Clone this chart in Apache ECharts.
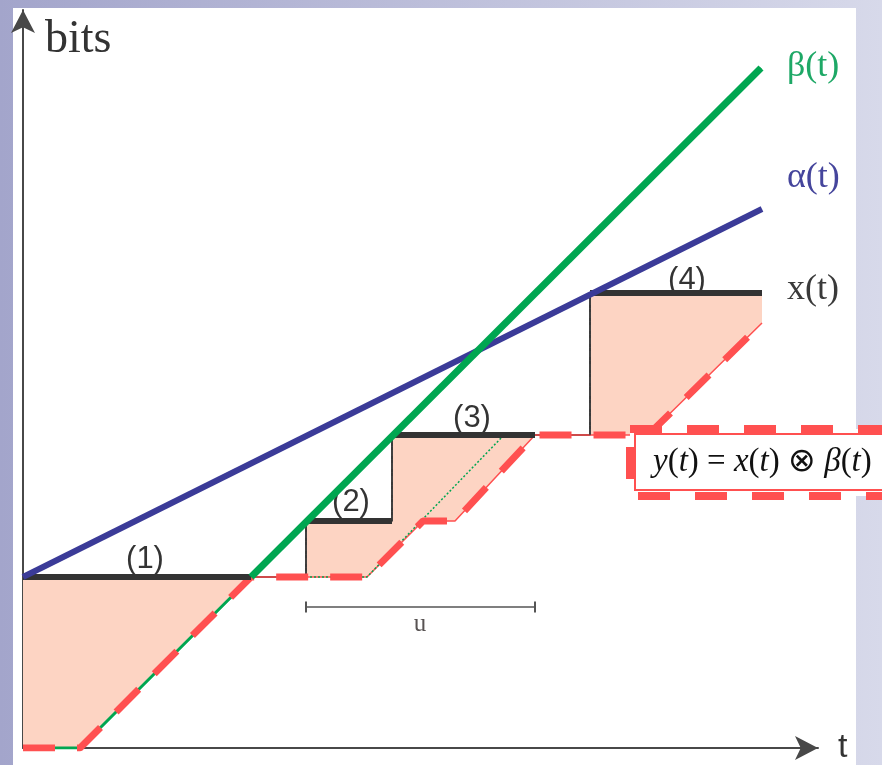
<!DOCTYPE html>
<html>
<head>
<meta charset="utf-8">
<title>y(t) = x(t) ⊗ β(t)</title>
<script src="https://cdn.jsdelivr.net/npm/echarts@6/dist/echarts.min.js"></script>
<style>
    html, body { margin: 0; padding: 0; }
    body { width: 882px; height: 765px; position: relative; overflow: hidden;
           background: linear-gradient(to right, #a3a5cb, #d7d9ea); }
    #panel { position: absolute; left: 13px; top: 8px; width: 843px; height: 757px; background: #fff; }
    #main { position: absolute; left: 0; top: 0; width: 882px; height: 765px; }
</style>
</head>
<body>
<div id="panel"></div>
<div id="main"></div>
<script>
    // axis extent (t, bits)
    var tMax = 795;
    var bitsMax = 738;

    // curves as [t, bits]
    var alphaCurve = [[0, 171], [739, 539]];
    var betaCurve = [[0, 0], [57, 0], [738, 680]];
    var betaAbove = [[228, 171], [738, 680]];
    var betaShifted = [[283, 171], [344, 171], [481, 313]];
    var arrival = [[0, 171], [283, 171], [283, 227], [369, 227], [369, 313], [567, 313], [567, 455], [739, 455]];
    var arrivalBold = [
        [[0, 171], [228, 171]],
        [[283, 227], [369, 227]],
        [[369, 313], [512, 313]],
        [[567, 455], [739, 455]]
    ];
    var jumps = [
        [[283, 171], [283, 227]],
        [[369, 227], [369, 313]],
        [[567, 313], [567, 455]]
    ];
    var departure = [[0, 0], [57, 0], [228, 171], [344, 171], [400, 227], [432, 227], [512, 313], [625, 313], [739, 425]];
    var uSpan = [[283, 141], [512, 141]];
    var uLabelAt = [[397, 124]];
    var stepNames = ['(1)', '(2)', '(3)', '(4)'];
    var stepLabelAt = [[122, 189], [328, 246], [449, 330], [664, 468]];

    var backlog = arrival.concat(departure.slice().reverse());

    function line(data, color, width, extra) {
        var s = {
            type: 'line', data: data, symbol: 'none', silent: true, animation: false,
            lineStyle: { color: color, width: width }
        };
        for (var k in extra) s[k] = extra[k];
        return s;
    }

    var series = [];
    // backlog area between x(t) and y(t)
    series.push({
        type: 'custom', silent: true, animation: false, z: 1,
        data: [[0, 0]],
        renderItem: function (params, api) {
            var pts = backlog.map(function (p) { return api.coord(p); });
            return { type: 'polygon', shape: { points: pts }, style: { fill: '#fdd4c3' } };
        }
    });
    series.push(line(arrival, '#3a3a3a', 2, {
        endLabel: { show: true, formatter: 'x(t)', distance: 0, offset: [25, -3],
            fontFamily: 'Liberation Serif', fontSize: 36, color: '#3a3a3a' }
    }));
    series.push(line(departure, '#ff5050', 1.5));
    series.push(line(betaCurve, '#00a651', 3));
    series.push(line(betaShifted, '#00a651', 1.5, {}));
    series[series.length - 1].lineStyle.type = [2, 2];
    jumps.forEach(function (seg) {
        var s = line(seg, '#444', 1.5);
        s.lineStyle.type = [6, 3, 1, 3];
        series.push(s);
    });
    // y(t) = x(t) ⊗ β(t), dashed
    var dep = line(departure, '#ff5050', 7);
    dep.lineStyle.type = [32, 22];
    series.push(dep);
    arrivalBold.forEach(function (seg) {
        series.push(line(seg, '#333333', 6));
    });
    series.push(line(alphaCurve, '#3b3b98', 6, {
        endLabel: { show: true, formatter: 'α(t)', distance: 0, offset: [25, -31],
            fontFamily: 'Liberation Serif', fontSize: 36, color: '#45459c' }
    }));
    series.push(line(betaAbove, '#00a651', 7, {
        endLabel: { show: true, formatter: 'β(t)', distance: 0, offset: [26, -1],
            fontFamily: 'Liberation Serif', fontSize: 36, color: '#1ea866' }
    }));
    // interval u
    series.push({
        type: 'line', data: uSpan, silent: true, animation: false,
        symbol: 'rect', symbolSize: [2, 11], showSymbol: true,
        itemStyle: { color: '#555' },
        lineStyle: { color: '#555', width: 1.5 }
    });
    series.push({
        type: 'scatter', data: uLabelAt, symbolSize: 0, silent: true, animation: false,
        label: { show: true, position: 'inside', formatter: 'u',
            fontFamily: 'Liberation Serif', fontSize: 25, color: '#2e2828' }
    });
    series.push({
        type: 'scatter', data: stepLabelAt, symbolSize: 0, silent: true, animation: false,
        label: { show: true, position: 'inside',
            formatter: function (p) { return stepNames[p.dataIndex]; },
            fontFamily: 'Liberation Sans', fontSize: 31, color: '#000' }
    });

    var axisBase = {
        type: 'value', min: 0,
        axisLine: { show: true, symbol: ['none', 'arrow'], symbolSize: [18, 23],
            lineStyle: { color: '#484848', width: 2 } },
        axisTick: { show: false }, axisLabel: { show: false }, splitLine: { show: false }
    };

    var myChart = echarts.init(document.getElementById('main'));
    var option = {
        animation: false,
        grid: { left: 23, right: 882 - 23 - tMax, top: 765 - 17 - bitsMax, bottom: 17, outerBoundsMode: 'none' },
        xAxis: Object.assign({}, axisBase, {
            max: tMax, name: 't', nameLocation: 'end', nameGap: 20,
            nameTextStyle: { fontFamily: 'Liberation Sans', fontSize: 34, color: '#333' }
        }),
        yAxis: Object.assign({}, axisBase, {
            max: bitsMax, name: 'bits', nameLocation: 'end', nameGap: -7,
            nameTextStyle: { fontFamily: 'Liberation Serif', fontSize: 46, color: '#333',
                align: 'left', verticalAlign: 'top', padding: [0, 0, 0, 22] }
        }),
        graphic: [
            {
                type: 'rect', z: 100, silent: true,
                shape: { x: 630, y: 429, width: 300, height: 67 },
                style: { fill: '#fff', stroke: '#ff5050', lineWidth: 8, lineDash: [32, 25] }
            },
            {
                type: 'rect', z: 101, silent: true,
                shape: { x: 635, y: 434, width: 290, height: 56 },
                style: { fill: 'none', stroke: '#ff5050', lineWidth: 2 }
            },
            {
                type: 'text', z: 102, silent: true, x: 653, y: 462,
                style: {
                    text: '{i|y}{n|(}{i|t}{n|) = }{i|x}{n|(}{i|t}{n|) ⊗ }{i|β}{n|(}{i|t}{n|)}',
                    verticalAlign: 'middle', fill: '#111',
                    font: 'italic 33px "Liberation Serif"',
                    rich: {
                        i: { fontFamily: 'Liberation Serif', fontStyle: 'italic', fontSize: 33 },
                        n: { fontFamily: 'Liberation Serif', fontSize: 33 }
                    }
                }
            }
        ],
        series: series
    };
    // 使用刚指定的配置项和数据显示图表。
    myChart.setOption(option);
</script>
</body>
</html>
